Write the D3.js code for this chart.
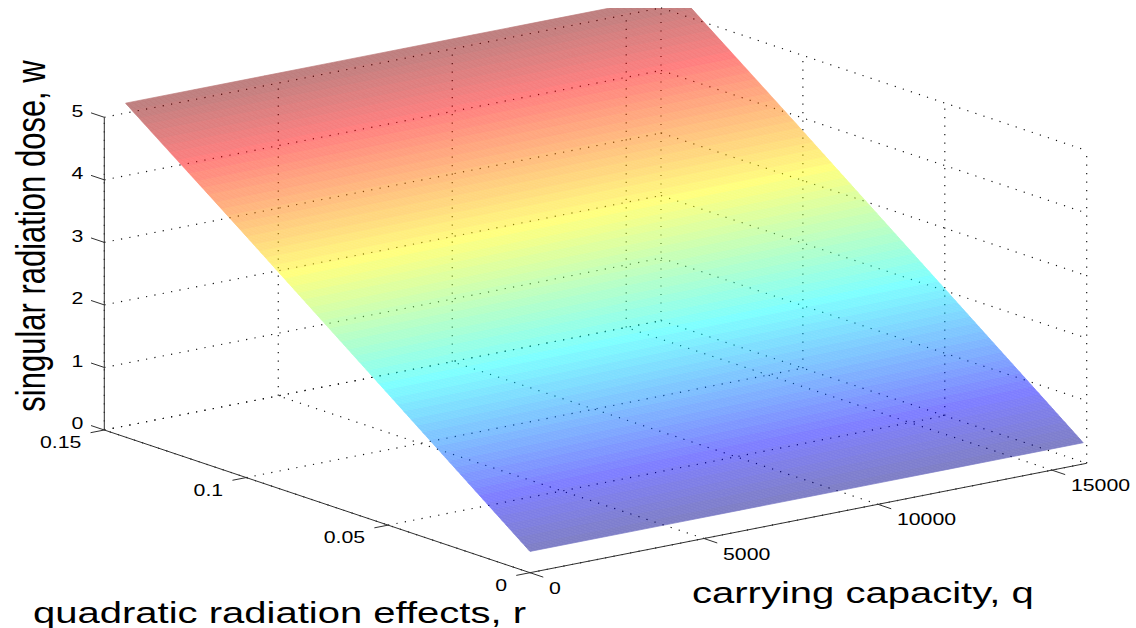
<!DOCTYPE html>
<html><head><meta charset="utf-8">
<script src="https://cdn.jsdelivr.net/npm/d3@7"></script>
<style>
body{margin:0;background:#fff;}
svg{display:block;font-family:"Liberation Sans",Arial,Helvetica,sans-serif;}
</style>
</head><body>
<svg id="chart" width="1136" height="628"></svg>
<script>
// ---------------- data ----------------
const qDomain = [0, 16000];
const rDomain = [0, 0.15];
const wDomain = [0, 5];
const qTicks = [0, 5000, 10000, 15000];
const rTicks = [0, 0.05, 0.1, 0.15];
const wTicks = [0, 1, 2, 3, 4, 5];
const qTickLabels = ["0", "5000", "10000", "15000"];
const rTickLabels = ["0", "0.05", "0.1", "0.15"];
const wTickLabels = ["0", "1", "2", "3", "4", "5"];
// surface samples: carrying capacity q (columns), quadratic effects r (rows), dose w
const qGrid = [0, 4000, 8000, 12000, 15900];
const rGrid = [0, 0.05, 0.1, 0.1425];
const wRow0 = [0.34, 0.34, 0.34, 0.34, 0.34];
const wRow1 = [2.10, 2.10, 2.10, 2.10, 2.10];
const wRow2 = [3.86, 3.86, 3.86, 3.86, 3.86];
const wRow3 = [5.34, 5.34, 5.34, 5.34, 5.34];
const wSurface = [wRow0, wRow1, wRow2, wRow3];
const xTitle = "carrying capacity, q";
const yTitle = "quadratic radiation effects, r";
const zTitle = "singular radiation dose, w";

// ---------------- projection ----------------
const svg = d3.select("#chart");
const qS = d3.scaleLinear().domain(qDomain).range([0, 1]);
const rS = d3.scaleLinear().domain(rDomain).range([0, 1]);
const wS = d3.scaleLinear().domain(wDomain).range([0, 1]);
const origin = [530, 572.7];
const eQ = [556.7, -109.4], eR = [-425.7, -142.7], eW = [0, -312.7];
function proj(q, r, w) {
  const a = qS(q), b = rS(r), c = wS(w);
  return [origin[0] + a*eQ[0] + b*eR[0] + c*eW[0],
          origin[1] + a*eQ[1] + b*eR[1] + c*eW[1]];
}
const q0 = qDomain[0], q1 = qDomain[1], r0 = rDomain[0], r1 = rDomain[1], w0 = wDomain[0], w1 = wDomain[1];
const line = d3.line();

// ---------------- grid (back walls + floor) ----------------
const grid = svg.append("g").attr("fill", "none").attr("stroke", "#111")
  .attr("stroke-width", 1.15).attr("stroke-dasharray", "1.2 7.3");
const segs = [];
wTicks.forEach(w => { segs.push([proj(q0, r1, w), proj(q1, r1, w)]); segs.push([proj(q1, r1, w), proj(q1, r0, w)]); });
qTicks.forEach(q => { segs.push([proj(q, r1, w0), proj(q, r1, w1)]); segs.push([proj(q, r0, w0), proj(q, r1, w0)]); });
rTicks.forEach(r => { segs.push([proj(q1, r, w0), proj(q1, r, w1)]); segs.push([proj(q0, r, w0), proj(q1, r, w0)]); });
grid.selectAll("path").data(segs).join("path").attr("d", d => line(d));

// ---------------- surface ----------------
function jet(x) {
  const c = v => Math.max(0, Math.min(1, v));
  return d3.rgb(255*c(1.5 - Math.abs(4*x - 3)), 255*c(1.5 - Math.abs(4*x - 2)), 255*c(1.5 - Math.abs(4*x - 1)));
}
const jet64 = d3.range(64).map(i => jet((i + 1) / 64).formatHex());
const wAll = wSurface.flat();
const colorS = d3.scaleQuantize().domain(d3.extent(wAll)).range(jet64);

const topY = proj(q1, r1, w1)[1];
const defs = svg.append("defs");
defs.append("clipPath").attr("id", "clipTop").append("rect")
  .attr("x", 0).attr("y", topY).attr("width", 1136).attr("height", 628 - topY);

const quads = [];
const NR = 120, NQ = 2;
for (let i = 0; i < rGrid.length - 1; i++) {
  for (let j = 0; j < qGrid.length - 1; j++) {
    const wa = wSurface[i][j], wb = wSurface[i][j+1], wc = wSurface[i+1][j], wd = wSurface[i+1][j+1];
    const bil = (u, v) => (1-u)*(1-v)*wa + u*(1-v)*wb + (1-u)*v*wc + u*v*wd;
    const rr = v => rGrid[i] + v*(rGrid[i+1] - rGrid[i]);
    const qq = u => qGrid[j] + u*(qGrid[j+1] - qGrid[j]);
    for (let a = 0; a < NR; a++) {
      for (let b = 0; b < NQ; b++) {
        const v0 = a/NR, v1 = (a+1)/NR, u0 = b/NQ, u1 = (b+1)/NQ;
        const pts = [[u0,v0],[u1,v0],[u1,v1],[u0,v1]].map(([u,v]) => proj(qq(u), rr(v), bil(u,v)));
        quads.push({pts, w: bil((u0+u1)/2, (v0+v1)/2)});
      }
    }
  }
}
svg.append("g").attr("clip-path", "url(#clipTop)").attr("opacity", 0.5)
  .selectAll("path").data(quads).join("path")
  .attr("d", d => line(d.pts) + "Z")
  .attr("fill", d => colorS(d.w))
  .attr("stroke", d => colorS(d.w))
  .attr("stroke-width", 0.7);

// ---------------- axes ----------------
const axes = svg.append("g").attr("fill", "none").attr("stroke", "#303030").attr("stroke-width", 1);
axes.append("path").attr("d", line([proj(q0, r1, w0), proj(q0, r1, w1)]));
axes.append("path").attr("d", line([proj(q0, r0, w0), proj(q0, r1, w0)]));
axes.append("path").attr("d", line([proj(q0, r0, w0), proj(q1, r0, w0)]));
const unit = v => { const n = Math.hypot(v[0], v[1]); return [v[0]/n, v[1]/n]; };
const TL = 14;
const dR = unit(eR), dQn = unit([-eQ[0], -eQ[1]]), dRn = unit([-eR[0], -eR[1]]);
const tickSeg = (p, d) => [p, [p[0] + TL*d[0], p[1] + TL*d[1]]];
wTicks.forEach(w => axes.append("path").attr("d", line(tickSeg(proj(q0, r1, w), dR))));
rTicks.forEach(r => axes.append("path").attr("d", line(tickSeg(proj(q0, r, w0), dQn))));
qTicks.forEach(q => axes.append("path").attr("d", line(tickSeg(proj(q, r0, w0), dRn))));

// ---------------- labels ----------------
const lab = svg.append("g").attr("fill", "#000");
function txt(x, y, s, size, anchor, sx, rot) {
  lab.append("text")
    .attr("transform", `translate(${x},${y}) scale(${sx},1)` + (rot ? ` rotate(${rot})` : ""))
    .attr("text-anchor", anchor).attr("font-size", size).text(s);
}
const TS = 16.5, TSX = 1.29;
wTicks.forEach((w, i) => { const p = proj(q0, r1, w); txt(p[0] - 21, p[1] - 0.8, wTickLabels[i], TS, "end", TSX); });
rTicks.forEach((r, i) => { const p = proj(q0, r, w0); txt(p[0] - 23, p[1] + 18.3, rTickLabels[i], TS, "end", TSX); });
qTicks.forEach((q, i) => { const p = proj(q, r0, w0); txt(p[0] + 19, p[1] + 21, qTickLabels[i], TS, "start", TSX); });

const FS = 30, FSX = 1.334;
txt(692, 603, xTitle, FS, "start", FSX);
txt(33, 622.5, yTitle, FS, "start", FSX);
txt(45, 236, zTitle, 31, "middle", 1.29, -90);
</script>
</body></html>
